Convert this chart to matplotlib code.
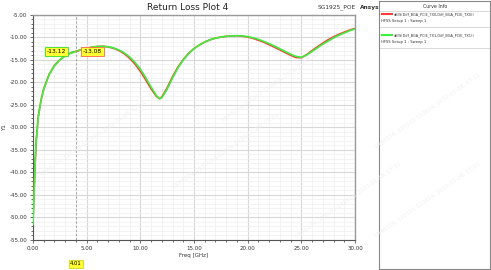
import matplotlib
matplotlib.use("Agg")
import matplotlib.pyplot as plt
from matplotlib.ticker import MultipleLocator, FormatStrFormatter

freq = [0, 0.1, 0.2, 0.3, 0.5, 0.75, 1, 1.5, 2, 2.5, 3, 3.5, 4, 4.5, 5, 5.5, 6, 6.5, 7, 7.5,
        8, 8.5, 9, 9.5, 10, 10.5, 11, 11.5, 11.8, 12, 12.5, 13, 13.5, 14, 14.5, 15, 15.5, 16,
        16.5, 17, 17.5, 18, 18.5, 19, 19.5, 20, 20.5, 21, 21.5, 22, 22.5, 23, 23.5, 24, 24.5,
        25, 25.5, 26, 26.5, 27, 27.5, 28, 28.5, 29, 29.5, 30]
s_tx1 = [-51.5, -45, -38, -33, -27.5, -24, -21.5, -18.3, -16.3, -15, -14.1, -13.5, -13.12, -12.7,
         -12.4, -12.15, -12.0, -11.95, -12.05, -12.3, -12.75, -13.4, -14.3, -15.5, -17.0, -18.9,
         -21.0, -22.9, -23.6, -23.4, -21.5, -19.0, -16.8, -15.0, -13.6, -12.5, -11.7, -11.0,
         -10.5, -10.15, -9.9, -9.75, -9.65, -9.6, -9.65, -9.8, -10.05, -10.4, -10.85, -11.35,
         -11.9, -12.5, -13.1, -13.7, -14.2, -14.4, -13.9, -13.1, -12.3, -11.5, -10.8, -10.1,
         -9.5, -9.0, -8.5, -8.1]
s_tx0 = [-50.5, -44.5, -37.8, -32.9, -27.4, -23.9, -21.4, -18.2, -16.2, -14.95, -14.05, -13.45, -13.08, -12.7,
         -12.4, -12.15, -12.0, -11.95, -12.1, -12.4, -12.9, -13.6, -14.6, -15.9, -17.5, -19.4,
         -21.4, -23.1, -23.6, -23.2, -21.2, -18.7, -16.6, -14.9, -13.5, -12.45, -11.65, -11.0,
         -10.5, -10.15, -9.9, -9.75, -9.65, -9.62, -9.7, -9.9, -10.2, -10.6, -11.05, -11.6,
         -12.15, -12.75, -13.35, -13.95, -14.45, -14.5, -13.8, -12.9, -12.05, -11.25, -10.5, -9.85,
         -9.3, -8.8, -8.35, -8.0]
marker_freq = 4.01
marker_vals = [-13.12, -13.08]
legend_names = ["dB(S(Diff_BGA_PCIE_TX0,Diff_BGA_PCIE_TX0))",
                "dB(S(Diff_BGA_PCIE_TX1,Diff_BGA_PCIE_TX1))"]
colors = ["#ff3b3b", "#3cf03c"]

fig = plt.figure(figsize=(4.91, 2.70), dpi=100)
fig.patch.set_facecolor("white")
ax = fig.add_axes([33/491, 1-240/270, (355-33)/491, (240-15)/270])

ax.set_xlim(0, 30)
ax.set_ylim(-55, -5)
ax.xaxis.set_major_locator(MultipleLocator(5))
ax.xaxis.set_minor_locator(MultipleLocator(1))
ax.yaxis.set_major_locator(MultipleLocator(5))
ax.yaxis.set_minor_locator(MultipleLocator(1))
ax.xaxis.set_major_formatter(FormatStrFormatter("%.2f"))
ax.yaxis.set_major_formatter(FormatStrFormatter("%.2f"))
ax.grid(which="major", color="#d8d8d8", lw=0.8)
ax.grid(which="minor", color="#efefef", lw=0.5)
ax.set_axisbelow(True)
ax.tick_params(which="both", labelsize=4, colors="#333333", length=2, width=0.5, pad=2)
ax.tick_params(which="minor", length=1.2)
for side in ["top", "right"]:
    ax.spines[side].set_color("#999999")
    ax.spines[side].set_linewidth(1.0)
for side in ["left", "bottom"]:
    ax.spines[side].set_color("#555555")
    ax.spines[side].set_linewidth(0.8)

# faint watermark
wm = "SN46224, 125101-12262A, 2022-01-28, 17:31"
for (x, y) in [(0.08, 0.35), (0.35, 0.3), (0.45, 0.55), (0.60, 0.12), (0.76, 0.12), (0.76, 0.45)]:
    fig.text(x, y, wm, fontsize=4, color="#f0f0f0", rotation=35, zorder=0)

ax.plot(freq, s_tx0, color=colors[0], lw=1.2, zorder=3)
ax.plot(freq, s_tx1, color=colors[1], lw=1.2, zorder=4)

ax.axvline(marker_freq, color="#999999", lw=0.6, ls=(0, (3, 2)), zorder=2)

ax.annotate(f"{marker_vals[0]:.2f}", xy=(marker_freq, marker_vals[0]), xytext=(-7, 0),
            textcoords="offset points", ha="right", va="center", fontsize=4.3,
            bbox=dict(boxstyle="square,pad=0.35", fc="#ffff33", ec="#33dd22", lw=0.6),
            arrowprops=dict(arrowstyle="-", color="#33dd22", lw=0.5), zorder=6)
ax.annotate(f"{marker_vals[1]:.2f}", xy=(marker_freq, marker_vals[1]), xytext=(5, 0),
            textcoords="offset points", ha="left", va="center", fontsize=4.3,
            bbox=dict(boxstyle="square,pad=0.35", fc="#ffff33", ec="#ff6644", lw=0.6),
            arrowprops=dict(arrowstyle="-", color="#ff6644", lw=0.5), zorder=6)
ax.text(marker_freq, -60.3, f"{marker_freq:.2f}", ha="center", va="center", fontsize=3.8,
        bbox=dict(boxstyle="square,pad=0.3", fc="#ffff33", ec="#cccc00", lw=0.5),
        clip_on=False)

ax.set_xlabel("Freq [GHz]", fontsize=4, labelpad=2, color="#333333")
ax.set_ylabel("Y1", fontsize=4, labelpad=2, color="#333333")

fig.text(188/491, 1-7/270, "Return Loss Plot 4", ha="center", va="center", fontsize=6.5, color="#222222")
fig.text(337/491, 1-7/270, "SG1925_POE", ha="center", va="center", fontsize=4.2, color="#333333")
fig.text(370/491, 1-7/270, "Ansys", ha="center", va="center", fontsize=4.2, color="#333333", fontweight="bold")

# curve info panel
lg = fig.add_axes([379/491, 1/270, 111/491, 268/270])
lg.set_xlim(0, 111)
lg.set_ylim(268, 0)
lg.set_xticks([])
lg.set_yticks([])
for s in lg.spines.values():
    s.set_color("#888888")
    s.set_linewidth(0.8)
lg.text(56, 5, "Curve Info", ha="center", va="center", fontsize=3.4, color="#333333")
lg.plot([0, 111], [9.5, 9.5], color="#cccccc", lw=0.5)
for i, (name, c) in enumerate(zip(legend_names, colors)):
    y0 = 13 + i * 21
    lg.plot([3, 13], [y0, y0], color=c, lw=1.5)
    lg.text(15, y0, name, ha="left", va="center", fontsize=2.5, color="#333333")
    lg.text(2, y0 + 7, "HFSS Setup 1 : Sweep 1", ha="left", va="center", fontsize=2.7, color="#333333")
    lg.plot([0, 111], [y0 + 13, y0 + 13], color="#cccccc", lw=0.5)

fig.savefig("out.png", dpi=100)
